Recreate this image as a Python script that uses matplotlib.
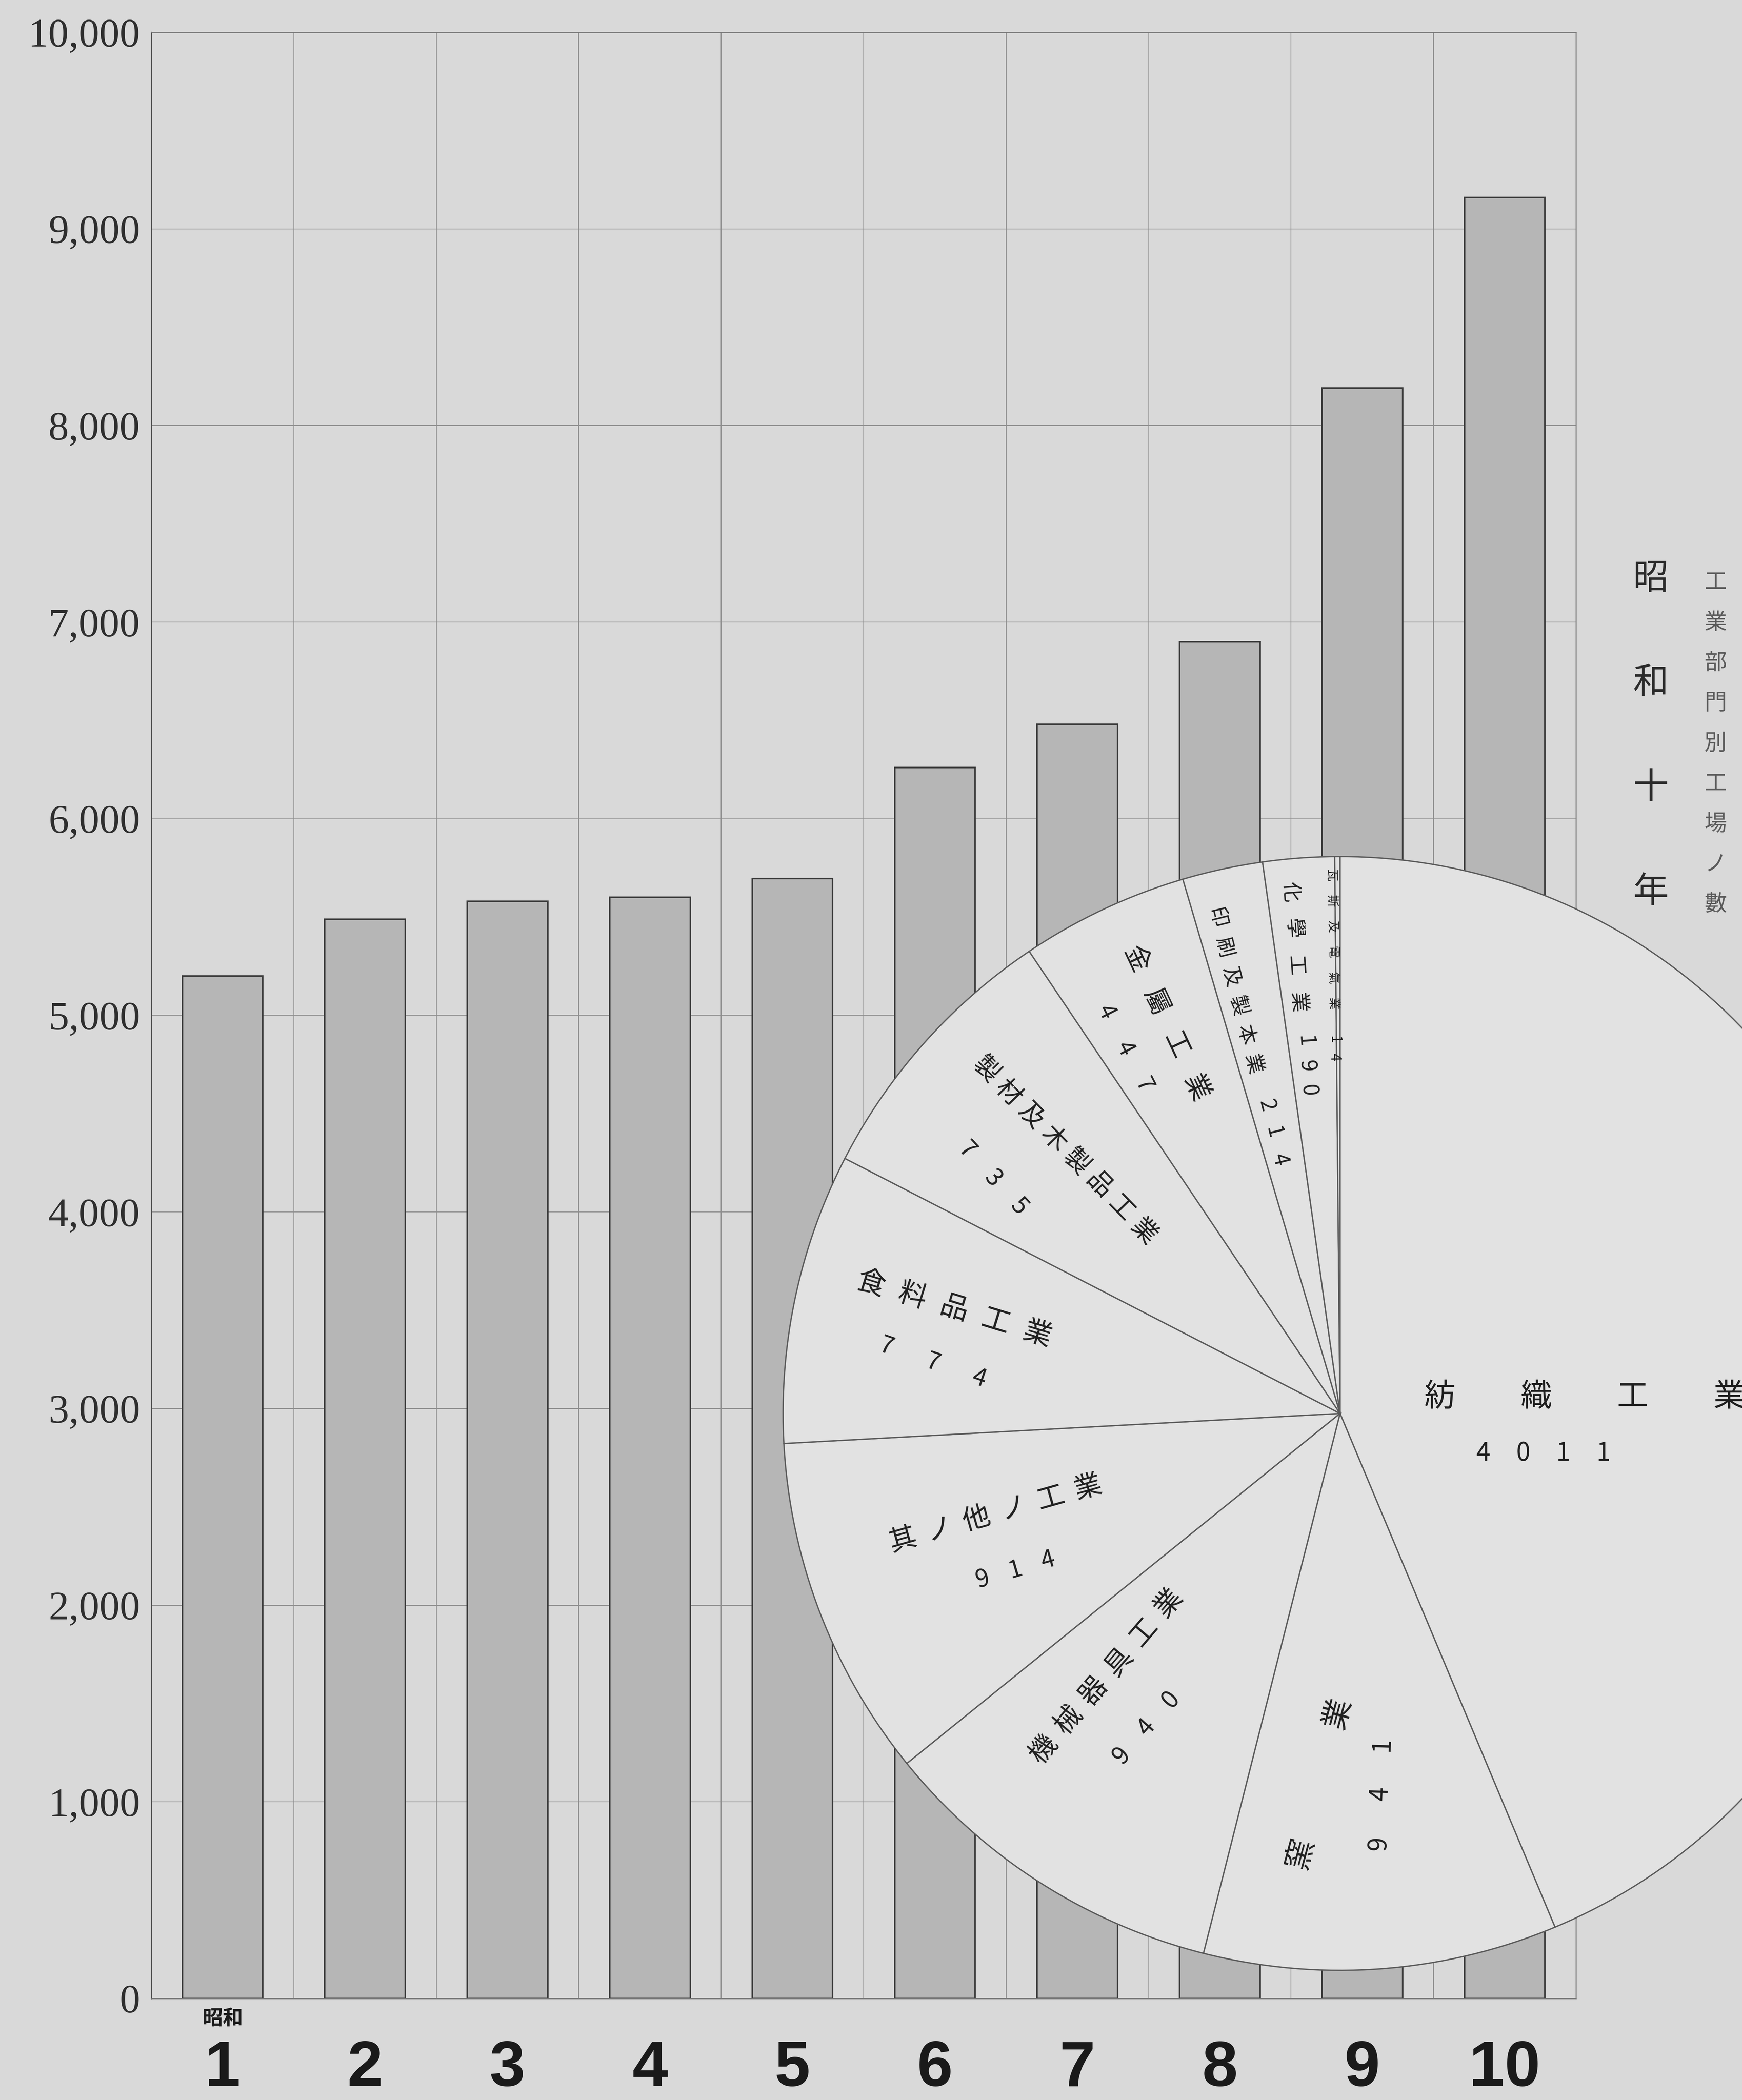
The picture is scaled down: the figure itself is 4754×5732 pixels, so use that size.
import numpy as np
import matplotlib
matplotlib.use("Agg")
import matplotlib.pyplot as plt

# ---------------- data ----------------
years = [1, 2, 3, 4, 5, 6, 7, 8, 9, 10]
year_labels = ["1", "2", "3", "4", "5", "6", "7", "8", "9", "10"]
factories = [5200, 5490, 5580, 5600, 5695, 6260, 6480, 6900, 8190, 9160]
y_ticks = [0, 1000, 2000, 3000, 4000, 5000, 6000, 7000, 8000, 9000, 10000]
y_tick_labels = ["0", "1,000", "2,000", "3,000", "4,000", "5,000",
                 "6,000", "7,000", "8,000", "9,000", "10,000"]

sectors = ["紡織工業", "窯業", "機械器具工業", "其ノ他ノ工業", "食料品工業",
           "製材及木製品工業", "金屬工業", "印刷及製本業", "化學工業", "瓦斯及電氣業"]
sector_values = [4011, 941, 940, 914, 774, 735, 447, 214, 190, 14]

title_main = "昭和十年"
title_sub = "工業部門別工場ノ數"

# ---------------- layout / style ----------------
W, H = 4754, 5732
BG = "#d9d9d9"
CJK = ["Noto Sans CJK JP", "DejaVu Sans"]
plt.rcParams["font.family"] = CJK

fig = plt.figure(figsize=(W / 100, H / 100), dpi=100, facecolor=BG)

ax = fig.add_axes([413 / W, 1 - 5455 / H, (4301 - 413) / W, (5455 - 88) / H])
ax.set_facecolor(BG)
ax.bar(years, factories, width=0.565, color="#b6b6b6",
       edgecolor="#3a3a3a", linewidth=3, zorder=3)
ax.set_xlim(0.5, 10.5)
ax.set_ylim(0, 10000)
ax.set_yticks(y_ticks)
ax.set_yticklabels(y_tick_labels, family=["Liberation Serif", "DejaVu Serif"],
                   fontsize=80, color="#2e2e2e")
ax.set_xticks(years)
ax.set_xticklabels(year_labels, family=["Liberation Sans Narrow", "Liberation Sans", "DejaVu Sans"],
                   fontsize=126, fontweight="bold", color="#1a1a1a")
ax.tick_params(axis="y", length=0, pad=22)
ax.tick_params(axis="x", length=0, pad=80)
for yv in y_ticks:
    ax.axhline(yv, color="#8e8e8e", lw=1.5, zorder=1)
for xv in np.arange(0.5, 11, 1.0):
    ax.axvline(xv, color="#8e8e8e", lw=1.5, zorder=1)
for s in ax.spines.values():
    s.set_color("#777777")
    s.set_linewidth(1.8)
ax.spines["left"].set_color("#555555")
ax.spines["left"].set_linewidth(2.5)

# 昭和 above the first year label
ax.text(1, -0.0102, "昭和", transform=ax.get_xaxis_transform(), ha="center", va="center",
        fontsize=40, fontweight="bold", color="#1a1a1a", family=CJK)

# ---------------- pie ----------------
cx, cy, r = 3657, 3858, 1520
pax = fig.add_axes([(cx - r) / W, 1 - (cy + r) / H, 2 * r / W, 2 * r / H])
wedges, _ = pax.pie(sector_values, startangle=90, counterclock=False, radius=1,
                    colors=["#e2e2e2"] * len(sector_values),
                    wedgeprops=dict(edgecolor="#5a5a5a", linewidth=2.6))
pax.set_xlim(-1, 1)
pax.set_ylim(-1, 1)
pax.set_aspect("equal", adjustable="box")
pax.axis("off")


def spaced(a, s, u, v, rot, step, size, color="#1e1e1e"):
    n = len(s)
    th = np.deg2rad(rot)
    dx, dy = np.cos(th) * step, np.sin(th) * step
    for i, ch in enumerate(s):
        k = i - (n - 1) / 2
        a.text(u + k * dx, v + k * dy, ch, rotation=rot, rotation_mode="anchor",
               ha="center", va="center", fontsize=size, color=color, family=CJK)


# (u, v, rotation, step, fontsize) for name and for number
name_layout = [
    (0.439, 0.029, 0, 0.173, 62),
    (-0.038, -0.664, 75, 0.26, 60),
    (-0.42, -0.472, 49.5, 0.069, 54),
    (-0.619, -0.18, 15.8, 0.069, 54),
    (-0.693, 0.187, -17, 0.078, 56),
    (-0.494, 0.472, -45.7, 0.058, 50),
    (-0.312, 0.70, -65, 0.085, 52),
    (-0.189, 0.758, -76, 0.054, 40),
    (-0.082, 0.837, -86, 0.066, 40),
    (-0.014, 0.851, -89, 0.046, 24),
]
num_layout = [
    (0.365, -0.072, 0, 0.072, 50),
    (0.072, -0.683, 88, 0.089, 50),
    (-0.348, -0.564, 48.6, 0.067, 48),
    (-0.583, -0.281, 16, 0.061, 48),
    (-0.731, 0.091, -19, 0.088, 48),
    (-0.623, 0.422, -47, 0.069, 48),
    (-0.386, 0.655, -63, 0.074, 46),
    (-0.12, 0.504, -76, 0.05, 42),
    (-0.06, 0.624, -86, 0.044, 42),
    (-0.01, 0.655, -89, 0.031, 28),
]
for name, val, nl, ml in zip(sectors, sector_values, name_layout, num_layout):
    spaced(pax, name, *nl)
    spaced(pax, str(val), *ml)

# ---------------- vertical titles ----------------
def vertical(text, x_px, y0_px, step_px, size, color):
    for i, ch in enumerate(text):
        fig.text(x_px / W, 1 - (y0_px + i * step_px) / H, ch, ha="center", va="center",
                 fontsize=size, color=color, family=CJK)


vertical(title_main, 4505, 1580, 285, 70, "#2a2a2a")
vertical(title_sub, 4682, 1590, 110, 44, "#5a5a5a")

fig.savefig("out.png", dpi=100, facecolor=BG)
